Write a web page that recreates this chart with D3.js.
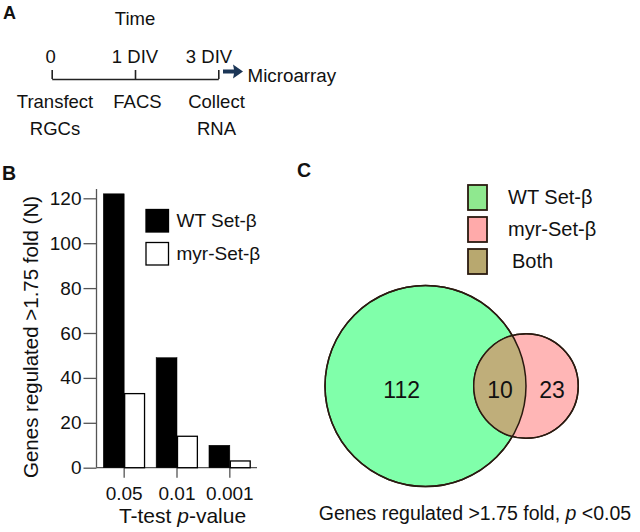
<!DOCTYPE html>
<html><head><meta charset="utf-8">
<script src="https://cdn.jsdelivr.net/npm/d3@7"></script>
<style>body{margin:0;background:#fff}svg{display:block}text{font-family:"Liberation Sans",Arial,sans-serif;fill:#111}</style>
</head><body><svg id="c" width="640" height="532"></svg>
<script>
// ---- data ----
const categories = ["0.05", "0.01", "0.001"];
const wtValues = [122, 49, 10];
const myrValues = [33, 14, 3];
const yTicks = [0, 20, 40, 60, 80, 100, 120];
const seriesNames = ["WT Set-β", "myr-Set-β"];
const vennLabels = ["WT Set-β", "myr-Set-β", "Both"];
const vennCounts = [112, 10, 23];   // WT only, both, myr only
const vennTotals = [122, 33];       // WT set, myr set
const timePoints = ["0", "1 DIV", "3 DIV"];
const timeSteps = [["Transfect", "RGCs"], ["FACS"], ["Collect", "RNA"]];

const svg = d3.select("#c");

// ---------- Panel A ----------
svg.append("text").attr("x", 3).attr("y", 19).attr("font-size", 18).attr("font-weight", "bold").text("A");
svg.append("text").attr("x", 135).attr("y", 25).attr("font-size", 18.5).attr("text-anchor", "middle").text("Time");
const tx = d3.scalePoint().domain(timePoints).range([51.7, 218.3]);
const gA = svg.append("g").attr("transform", "translate(0,79)");
gA.call(d3.axisTop(tx).tickSize(9).tickSizeOuter(0).tickFormat(""));
gA.selectAll("path,line").attr("stroke", "#222").attr("stroke-width", 1.6);
const labelX = [50.7, 135, 209];
svg.selectAll("text.tp").data(timePoints).join("text").attr("class", "tp")
  .attr("x", (d, i) => labelX[i]).attr("y", 62.7).attr("font-size", 18.5).attr("text-anchor", "middle").text(d => d);
const stepX = [55, 137.5, 216.5];
timeSteps.forEach((lines, i) => {
  lines.forEach((l, j) => {
    svg.append("text").attr("x", stepX[i]).attr("y", 108 + j * 27).attr("font-size", 18.5)
      .attr("text-anchor", "middle").text(l);
  });
});
// arrow
svg.append("path").attr("d", "M223,69.5 L234,69.5 L233,64.5 L243,71.5 L233,78.5 L234,73.5 L223,73.5 Z")
  .attr("fill", "#1b3556");
svg.append("text").attr("x", 247.5).attr("y", 81.5).attr("font-size", 18.8).text("Microarray");

// ---------- Panel B ----------
svg.append("text").attr("x", 2).attr("y", 180).attr("font-size", 19.5).attr("font-weight", "bold").text("B");
const y = d3.scaleLinear().domain([0, 120]).range([467.7, 198.3]);
const x0 = d3.scaleBand().domain(categories).range([103.3, 250.7]).paddingInner(0.21).paddingOuter(0);
const x1 = d3.scaleBand().domain([0, 1]).range([0, x0.bandwidth()]);

const gy = svg.append("g").attr("transform", "translate(96.5,0)")
  .call(d3.axisLeft(y).tickValues(yTicks).tickSize(13).tickPadding(2).tickSizeOuter(0));
gy.select(".domain").remove();
gy.selectAll("line").attr("stroke", "#555").attr("stroke-width", 1.3);
gy.selectAll("text").attr("font-size", 19).attr("font-family", "Liberation Sans, Arial, sans-serif").attr("fill", "#111");
svg.append("line").attr("x1", 96.5).attr("x2", 96.5).attr("y1", 189).attr("y2", 467.7).attr("stroke", "#555").attr("stroke-width", 1.3);

const gx = svg.append("g").attr("transform", "translate(0,467.7)")
  .call(d3.axisBottom(x0).tickSize(10).tickPadding(9).tickSizeOuter(0));
gx.select(".domain").remove();
gx.selectAll("line").attr("stroke", "#555").attr("stroke-width", 1.3);
gx.selectAll("text").attr("font-size", 19).attr("font-family", "Liberation Sans, Arial, sans-serif").attr("fill", "#111");
svg.append("line").attr("x1", 96.5).attr("x2", 257).attr("y1", 467.7).attr("y2", 467.7).attr("stroke", "#555").attr("stroke-width", 1.3);

const series = [wtValues, myrValues];
const fills = ["#000", "#fff"];
series.forEach((vals, s) => {
  svg.selectAll("rect.s" + s).data(vals).join("rect").attr("class", "s" + s)
    .attr("x", (d, i) => x0(categories[i]) + x1(s) + (s ? 0.5 : 0))
    .attr("width", x1.bandwidth() - (s ? 1 : 0))
    .attr("y", d => y(d)).attr("height", d => y(0) - y(d))
    .attr("fill", fills[s]).attr("stroke", "#000").attr("stroke-width", s ? 1.3 : 0.5);
});
// y label
svg.append("text").attr("transform", "translate(38,337) rotate(-90)").attr("font-size", 20.5)
  .attr("text-anchor", "middle").text("Genes regulated >1.75 fold (N)");
// x label
const xl = svg.append("text").attr("x", 182.5).attr("y", 522.5).attr("font-size", 21).attr("text-anchor", "middle");
xl.append("tspan").text("T-test ");
xl.append("tspan").attr("font-style", "italic").text("p");
xl.append("tspan").text("-value");
// legend B
seriesNames.forEach((n, i) => {
  svg.append("rect").attr("x", 146).attr("y", 209.5 + i * 33).attr("width", 22.5).attr("height", 22.5)
    .attr("fill", fills[i]).attr("stroke", "#000").attr("stroke-width", 1.3);
  svg.append("text").attr("x", 176.5).attr("y", 227 + i * 33).attr("font-size", 19).text(n);
});

// ---------- Panel C ----------
svg.append("text").attr("x", 297).attr("y", 177).attr("font-size", 19.5).attr("font-weight", "bold").text("C");
const legFills = ["#8fe88f", "#ffaaaa", "#b8a86f"];
vennLabels.forEach((n, i) => {
  svg.append("rect").attr("x", 468).attr("y", 185 + i * 32).attr("width", 19).attr("height", 25)
    .attr("fill", legFills[i]).attr("stroke", "#2a1a10").attr("stroke-width", 1.8);
  svg.append("text").attr("x", i === 2 ? 512 : 508).attr("y", 204 + i * 32).attr("font-size", 20).text(n);
});
const r = d3.scaleSqrt().domain([0, 122]).range([0, 100.5]);
const c1 = [425.5, 386], c2 = [526, 386];
const r1 = r(vennTotals[0]), r2 = r(vennTotals[1]);
svg.append("defs").append("clipPath").attr("id", "cp1").append("circle").attr("cx", c1[0]).attr("cy", c1[1]).attr("r", r1);
svg.append("circle").attr("cx", c1[0]).attr("cy", c1[1]).attr("r", r1).attr("fill", "#80ffaa").attr("stroke", "#2a1a10").attr("stroke-width", 1.5);
svg.append("circle").attr("cx", c2[0]).attr("cy", c2[1]).attr("r", r2).attr("fill", "#ffb6b6").attr("stroke", "#2a1a10").attr("stroke-width", 1.5);
svg.append("circle").attr("cx", c2[0]).attr("cy", c2[1]).attr("r", r2).attr("fill", "#bfae7a").attr("clip-path", "url(#cp1)");
svg.append("circle").attr("cx", c1[0]).attr("cy", c1[1]).attr("r", r1).attr("fill", "none").attr("stroke", "#2a1a10").attr("stroke-width", 1.5)
  .attr("clip-path", null);
svg.append("circle").attr("cx", c2[0]).attr("cy", c2[1]).attr("r", r2).attr("fill", "none").attr("stroke", "#2a1a10").attr("stroke-width", 1.5);
const numX = [401.7, 500, 552];
svg.selectAll("text.vn").data(vennCounts).join("text").attr("class", "vn")
  .attr("x", (d, i) => numX[i]).attr("y", 398).attr("font-size", 23).attr("text-anchor", "middle").text(d => d);
const cap = svg.append("text").attr("x", 475).attr("y", 520).attr("font-size", 19.5).attr("text-anchor", "middle");
cap.append("tspan").text("Genes regulated >1.75 fold, ");
cap.append("tspan").attr("font-style", "italic").text("p");
cap.append("tspan").text(" <0.05");
</script></body></html>
